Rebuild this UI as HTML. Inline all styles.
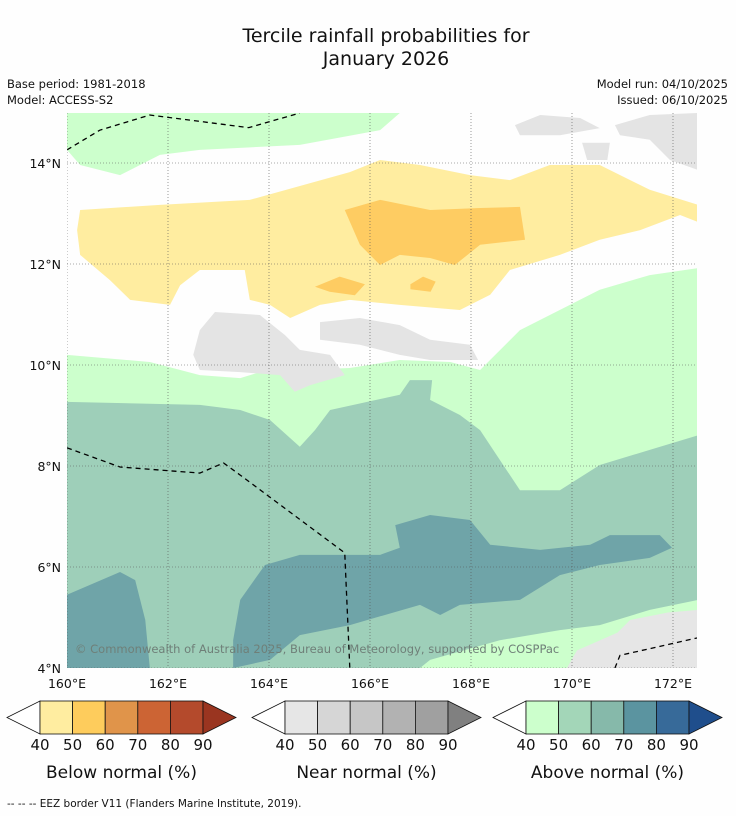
<!DOCTYPE html>
<html><head><meta charset="utf-8"><style>
body{margin:0;background:#fff;}
svg{display:block;font-family:"DejaVu Sans","Liberation Sans",sans-serif;}
</style></head><body>
<svg id="chart" width="736" height="816" viewBox="0 0 736 816" xmlns="http://www.w3.org/2000/svg">
<rect width="736" height="816" fill="#fefefe"/>
<text x="386" y="42" font-size="19" text-anchor="middle" fill="#111">Tercile rainfall probabilities for</text>
<text x="386" y="65" font-size="19" text-anchor="middle" fill="#111">January 2026</text>
<text x="7" y="88" font-size="11.5" fill="#111">Base period: 1981-2018</text>
<text x="7" y="104" font-size="11.5" fill="#111">Model: ACCESS-S2</text>
<text x="728" y="88" font-size="11.5" text-anchor="end" fill="#111">Model run: 04/10/2025</text>
<text x="728" y="104" font-size="11.5" text-anchor="end" fill="#111">Issued: 06/10/2025</text>
<defs><clipPath id="mapclip"><rect x="67" y="113" width="630" height="555"/></clipPath></defs>
<g id="map" clip-path="url(#mapclip)"></g>
<g id="axes"></g>
<g id="legends"></g>
<text x="7" y="807" font-size="10.5" fill="#111">--  --  -- EEZ border V11 (Flanders Marine Institute, 2019).</text>
</svg>
<script>
const lonTicks=[160,162,164,166,168,170,172];
const latTicks=[4,6,8,10,12,14];
const legendTicks=[40,50,60,70,80,90];
const belowColors=["#ffeda0","#fecc5c","#e0944a","#cc6434","#b44a2c","#9a3520"];
const nearColors=["#e6e6e6","#d6d6d6","#c6c6c6","#b2b2b2","#a0a0a0","#808080"];
const aboveColors=["#ccffcc","#a3d6b8","#86b9aa","#5b94a0","#376a99","#1f4e8c"];
const greenTop=[[160,14.99],[166.59,14.99],[166.2,14.65],[164.61,14.36],[162.63,14.26],[161.84,14.16],[161.05,13.76],[160.26,13.96],[160,14.26]];
const greenMid=[[160,10.2],[161.64,10.06],[162.63,9.8],[163.43,9.74],[163.82,9.86],[164.61,9.9],[165.6,9.94],[166.59,10.1],[167.59,10.06],[168.18,9.9],[168.97,10.69],[170.55,11.49],[171.54,11.78],[172.5,11.92],[172.5,4],[160,4]];
const tealMid=[[160,9.27],[162.63,9.21],[163.43,9.11],[164.02,8.91],[164.61,8.38],[164.91,8.71],[165.21,9.11],[166.59,9.41],[166.79,9.7],[167.23,9.7],[167.19,9.31],[167.78,9.01],[168.18,8.71],[168.97,7.52],[169.76,7.52],[170.55,8.02],[171.54,8.32],[172.5,8.61],[172.5,5.35],[171.54,5.15],[170.55,4.85],[169.76,4.75],[168.57,4.55],[167.19,4.16],[166.99,4],[160,4]];
const tealDark1=[[160,5.45],[161.05,5.9],[161.35,5.74],[161.55,4.95],[161.64,4],[160,4]];
const tealDark2=[[163.29,4.55],[163.43,5.35],[163.92,6.04],[164.61,6.24],[166.2,6.24],[166.59,6.38],[166.5,6.83],[167.19,7.03],[167.98,6.93],[168.38,6.44],[169.37,6.34],[170.36,6.44],[170.75,6.63],[171.74,6.63],[171.98,6.38],[171.54,6.18],[170.55,6.04],[169.76,5.84],[168.97,5.35],[167.78,5.25],[167.39,5.05],[166.99,5.25],[165.6,4.85],[164.61,4.65],[164.02,4.16],[163.29,4]];
const greyBR=[[169.9,4],[170.1,4.35],[170.9,4.7],[171.15,4.95],[171.9,5.1],[172.5,5.15],[172.5,4]];
const yellow=[[160.26,13.07],[161.84,13.17],[163.62,13.27],[165.6,13.82],[166.2,14.06],[166.99,13.96],[167.98,13.76],[168.77,13.66],[169.56,13.96],[170.55,13.96],[171.54,13.47],[172.5,13.17],[172.5,12.83],[172.14,12.97],[171.35,12.67],[170.55,12.48],[169.76,12.18],[168.77,11.88],[168.38,11.39],[167.78,11.09],[166.59,11.19],[165.6,11.29],[165.01,11.19],[164.42,10.93],[164.02,11.19],[163.62,11.29],[163.52,11.88],[162.63,11.88],[162.24,11.58],[162.04,11.19],[161.25,11.29],[160.85,11.68],[160.26,12.18],[160.2,12.67]];
const orange=[[165.5,13.07],[166.2,13.27],[167.19,13.07],[168.18,13.11],[168.97,13.13],[169.07,12.48],[168.18,12.38],[167.68,11.98],[167.19,12.12],[166.59,12.18],[166.2,11.98],[165.8,12.38]];
const orange2=[[164.91,11.55],[165.4,11.75],[165.9,11.6],[165.7,11.38],[165.2,11.45]];
const orange3=[[166.8,11.6],[167.05,11.75],[167.3,11.65],[167.2,11.45],[166.8,11.5]];
const grey1=[[162.63,10.69],[162.93,11.05],[163.82,10.99],[164.32,10.59],[164.61,10.3],[165.21,10.2],[165.5,9.8],[164.81,9.6],[164.51,9.47],[164.22,9.8],[163.43,9.86],[162.63,9.9],[162.5,10.2]];
const grey2=[[165.01,10.85],[165.8,10.93],[166.59,10.79],[167.19,10.5],[167.98,10.4],[168.14,10.1],[167.19,10.1],[166.59,10.2],[165.8,10.4],[165.01,10.5]];
const grey3=[[168.87,14.75],[169.37,14.95],[170.16,14.89],[170.55,14.69],[169.76,14.55],[168.97,14.55]];
const grey4=[[170.85,14.75],[171.54,14.95],[172.5,14.99],[172.5,13.86],[171.94,14.06],[171.54,14.46],[170.95,14.55]];
const grey5=[[170.2,14.4],[170.75,14.4],[170.7,14.06],[170.3,14.06]];
const eez1=[[160,14.26],[160.65,14.65],[161.64,14.95],[163.6,14.7],[164.61,14.99]];
const eez2=[[160,8.36],[161.05,7.98],[162.63,7.86],[163.1,8.06],[163.43,7.82],[165.5,6.28],[165.6,4]];
const eez3=[[170.85,4],[170.95,4.25],[172.5,4.6]];

const X0=67,Y0=668,PX=50.5;
const sx=lon=>X0+(lon-160)*PX;
const sy=lat=>Y0-(lat-4)*PX;
const NS="http://www.w3.org/2000/svg";
function mk(tag,attrs,parent){const e=document.createElementNS(NS,tag);for(const k in attrs)e.setAttribute(k,attrs[k]);parent.appendChild(e);return e;}
const map=document.getElementById('map');
function poly(pts,fill,name){
  const p=mk('polygon',{points:pts.map(d=>sx(d[0])+','+sy(d[1])).join(' '),fill:fill},map);
  
  
}
poly(greenTop,"#ccffcc","above-normal-40-region-north");
poly(greenMid,"#ccffcc","above-normal-40-region");
poly(tealMid,"#9ecfb9","above-normal-50-region");
poly(tealDark1,"#6fa4a8","above-normal-60-region-west");
poly(tealDark2,"#6fa4a8","above-normal-60-region");
poly(greyBR,"#e6e6e6","near-normal-region-southeast");
poly(yellow,"#ffeda0","below-normal-40-region");
poly(orange,"#fecc62","below-normal-50-region");
poly(orange2,"#fecc62","below-normal-50-patch-a");
poly(orange3,"#fecc62","below-normal-50-patch-b");
[grey1,grey2,grey3,grey4,grey5].forEach((g,i)=>poly(g,"#e4e4e4","near-normal-region-"+(i+1)));
function line(pts,name){
  const l=mk('polyline',{points:pts.map(d=>sx(d[0])+','+sy(d[1])).join(' '),fill:'none',stroke:'#000','stroke-width':1.3,'stroke-dasharray':'5,4'},map);
  
  
}
line(eez1,"eez-border-north");line(eez2,"eez-border-central");line(eez3,"eez-border-southeast");
lonTicks.forEach(t=>{const g=mk('line',{x1:sx(t),x2:sx(t),y1:113,y2:668,stroke:'#555','stroke-width':0.6,'stroke-dasharray':'1,2'},map);

});
latTicks.forEach(t=>{const g=mk('line',{x1:67,x2:697,y1:sy(t),y2:sy(t),stroke:'#555','stroke-width':0.6,'stroke-dasharray':'1,2'},map);

});
const wm=mk('text',{x:75,y:653,'font-size':11.5,fill:'#6f7f78'},map);
wm.textContent="© Commonwealth of Australia 2025, Bureau of Meteorology, supported by COSPPac";


const axes=document.getElementById('axes');
lonTicks.forEach(t=>{const e=mk('text',{x:sx(t),y:688,'font-size':12.5,'text-anchor':'middle',fill:'#111'},axes);e.textContent=t+"°E";

});
latTicks.forEach(t=>{const e=mk('text',{x:61,y:sy(t)+5,'font-size':12.5,'text-anchor':'end',fill:'#111'},axes);e.textContent=t+"°N";

});
const L=document.getElementById('legends');
function legend(x0,colors,title,name){
  const g=mk('g',{},L);
  
  
  const w=32.6,y=701,h=33,a=33;
  mk('polygon',{points:`${x0},${y+h/2} ${x0+a},${y} ${x0+a},${y+h}`,fill:'#fff',stroke:'#111','stroke-width':0.8},g);
  for(let i=0;i<5;i++){mk('rect',{x:x0+a+i*w,y:y,width:w,height:h,fill:colors[i],stroke:'#111','stroke-width':0.8},g);}
  const xe=x0+a+5*w;
  mk('polygon',{points:`${xe},${y} ${xe+a},${y+h/2} ${xe},${y+h}`,fill:colors[5],stroke:'#111','stroke-width':0.8},g);
  legendTicks.forEach((t,i)=>{const e=mk('text',{x:x0+a+i*w,y:750,'font-size':15,'text-anchor':'middle',fill:'#111'},g);e.textContent=t;});
  const tt=mk('text',{x:x0+a+2.5*w,y:778,'font-size':17,'text-anchor':'middle',fill:'#111'},g);tt.textContent=title;
}
legend(7,belowColors,"Below normal (%)","legend-below-normal");
legend(252,nearColors,"Near normal (%)","legend-near-normal");
legend(493,aboveColors,"Above normal (%)","legend-above-normal");
</script>
</body></html>
